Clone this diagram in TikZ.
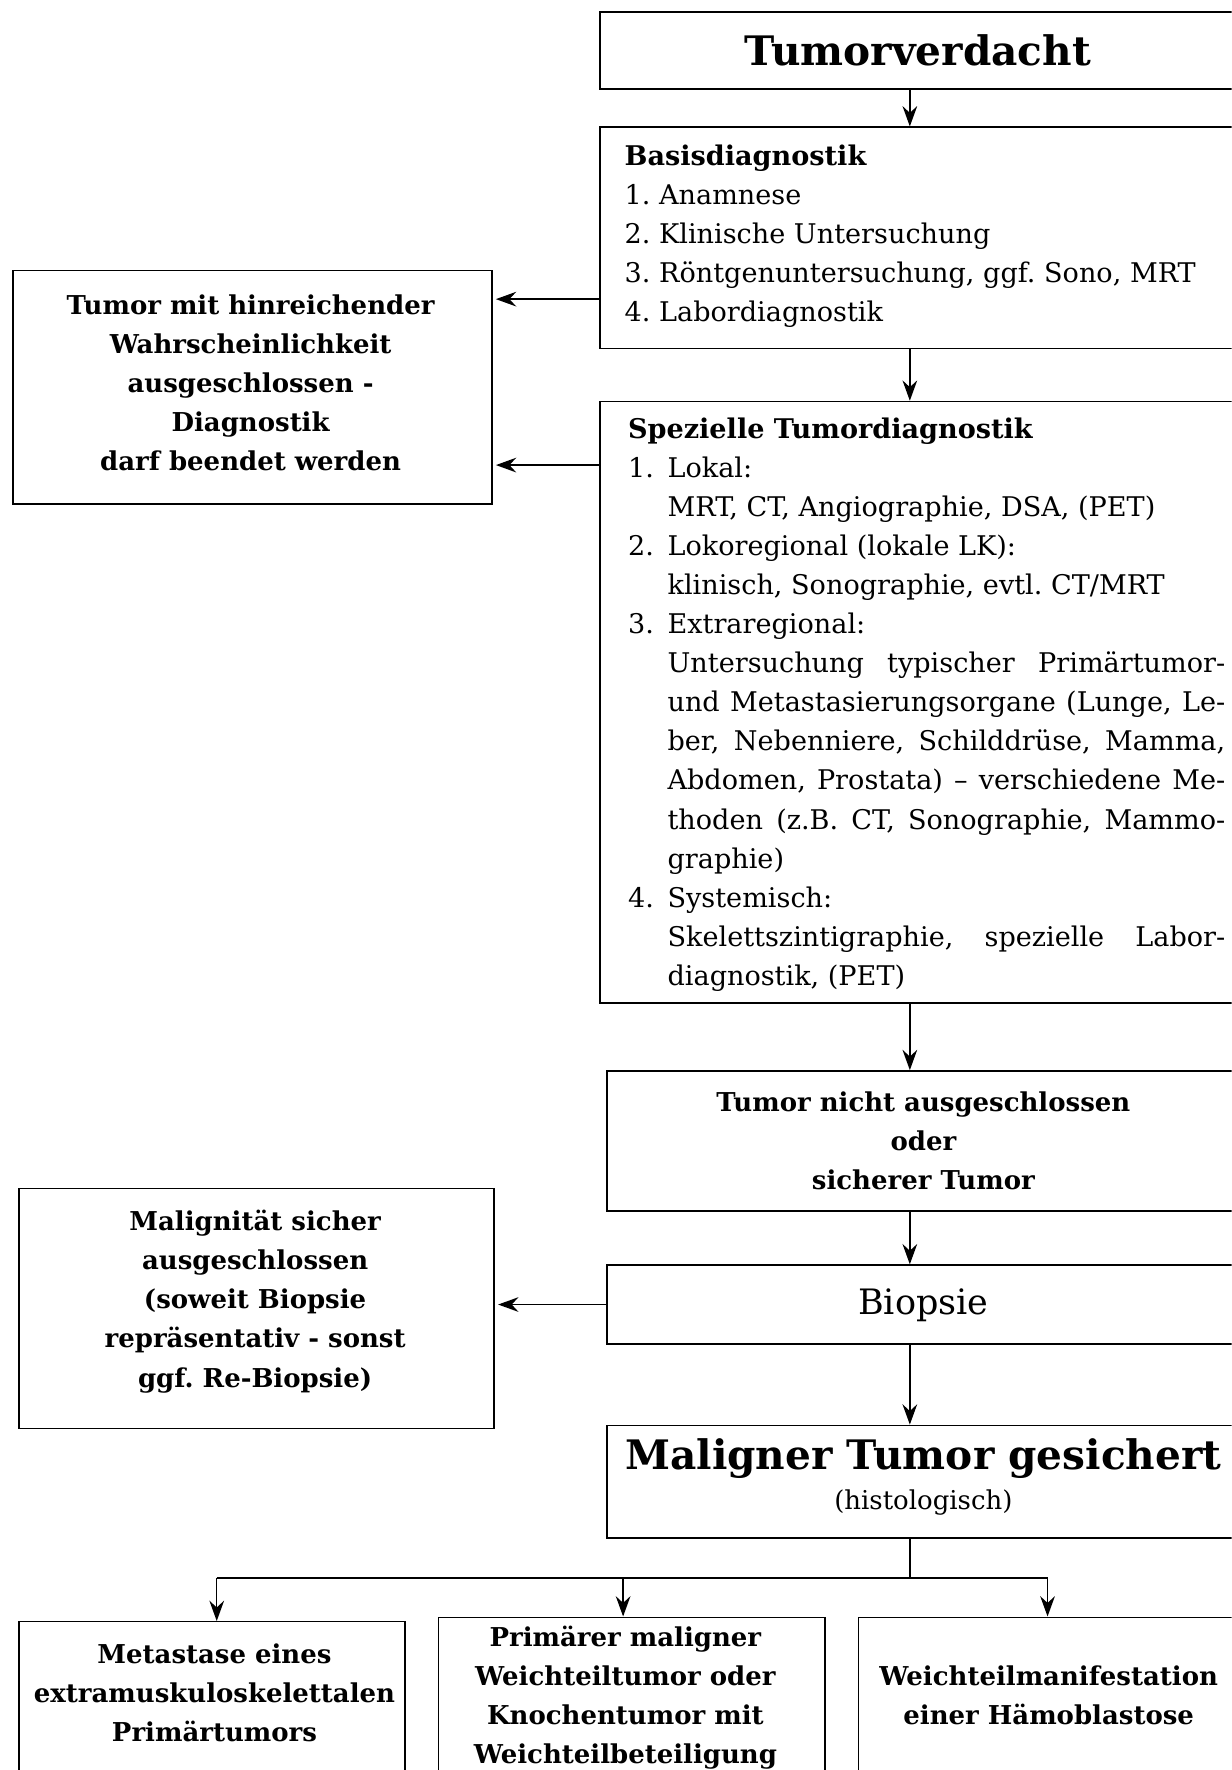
\documentclass[tikz,border=0pt]{standalone}
\usepackage{fontspec}
\setmainfont{DejaVu Serif}
\usetikzlibrary{arrows.meta,calc}
\newcommand\numbox[1]{\makebox[17.5pt][l]{#1}}
\newcommand\justline[1]{\makebox[247pt][s]{#1}}
\begin{document}
\frenchspacing
\begin{tikzpicture}[x=0.5pt,y=-0.5pt,
  box/.style={draw, line width=0.65pt, rectangle, inner sep=0pt, anchor=north west},
  arr/.style={-{Stealth[length=9pt,width=6.5pt,inset=3pt]}, line width=0.65pt},
  larr/.style={arr, shorten >=1.5pt},
  ln/.style={line width=0.65pt},
  ltxt/.style={inner sep=0pt, anchor=north west, align=left, font=\fontsize{12}{17.3}\selectfont},
  ctxt/.style={inner sep=0pt, align=center, font=\bfseries\fontsize{11.5}{17.3}\selectfont}
]
\useasboundingbox (0,0) rectangle (1091,1568);
\clip (0,0) rectangle (1091,1568);

% boxes
\node[box, minimum width=282pt,   minimum height=34pt]    (tv)    at (531,10) {};
\node[box, minimum width=283.5pt, minimum height=98pt]    (basis) at (531,112) {};
\node[box, minimum width=283.5pt, minimum height=266.5pt] (spez)  at (531,355) {};
\node[box, minimum width=212pt,   minimum height=103.5pt] (left1) at (11,239) {};
\node[box, minimum width=280.5pt, minimum height=62pt]    (tnot)  at (537,948) {};
\node[box, minimum width=280.5pt, minimum height=35pt]    (biop)  at (537,1120) {};
\node[box, minimum width=210.5pt, minimum height=106.5pt] (left2) at (16,1052) {};
\node[box, minimum width=280.5pt, minimum height=50pt]    (mal)   at (537,1262) {};
\node[box, minimum width=171pt,   minimum height=82pt]    (b1)    at (16,1436) {};
\node[box, minimum width=171pt,   minimum height=84pt]    (b2)    at (388,1432) {};
\node[box, minimum width=169pt,   minimum height=84pt]    (b3)    at (760,1432) {};

% texts
\node[inner sep=0pt, font=\bfseries\fontsize{18}{22}\selectfont] (tvt) at (813,45) {Tumorverdacht};
\node[ltxt] (basist) at (553,126) {\rule{0pt}{10pt}\textbf{Basisdiagnostik}\\
1. Anamnese\\
2. Klinische Untersuchung\\
3. Röntgenuntersuchung, ggf. Sono, MRT\\
4. Labordiagnostik};
\node[ltxt] (spezt) at (556,368) {\rule{0pt}{10pt}\textbf{Spezielle Tumordiagnostik}\\
\numbox{1.}Lokal:\\
\hspace*{17.5pt}MRT, CT, Angiographie, DSA, (PET)\\
\numbox{2.}Lokoregional (lokale LK):\\
\hspace*{17.5pt}klinisch, Sonographie, evtl. CT/MRT\\
\numbox{3.}Extraregional:\\
\hspace*{17.5pt}\justline{Untersuchung typischer Primärtumor-}\\
\hspace*{17.5pt}\justline{und Metastasierungsorgane (Lunge, Le-}\\
\hspace*{17.5pt}\justline{ber, Nebenniere, Schilddrüse, Mamma,}\\
\hspace*{17.5pt}\justline{Abdomen, Prostata) – verschiedene Me-}\\
\hspace*{17.5pt}\justline{thoden (z.B. CT, Sonographie, Mammo-}\\
\hspace*{17.5pt}graphie)\\
\numbox{4.}Systemisch:\\
\hspace*{17.5pt}\justline{Skelettszintigraphie, spezielle Labor-}\\
\hspace*{17.5pt}diagnostik, (PET)};
\node[ctxt] (left1t) at (222,339) {Tumor mit hinreichender\\Wahrscheinlichkeit\\ausgeschlossen -\\Diagnostik\\darf beendet werden};
\node[ctxt] (tnott) at (818,1011) {Tumor nicht ausgeschlossen\\oder\\sicherer Tumor};
\node[inner sep=0pt, font=\fontsize{15.5}{18}\selectfont] (biopt) at (818,1156) {Biopsie};
\node[ctxt] (left2t) at (226,1153) {Malignität sicher\\ausgeschlossen\\(soweit Biopsie\\repräsentativ - sonst\\ggf. Re-Biopsie)};
\node[inner sep=0pt, font=\bfseries\fontsize{18}{22}\selectfont] (malt) at (818,1292) {Maligner Tumor gesichert};
\node[inner sep=0pt, font=\fontsize{11.5}{14}\selectfont] (mals) at (818,1331) {(histologisch)};
\node[ctxt] (b1t) at (190,1500) {Metastase eines\\extramuskuloskelettalen\\Primärtumors};
\node[ctxt] (b2t) at (554,1504) {Primärer maligner\\Weichteiltumor oder\\Knochentumor mit\\Weichteilbeteiligung};
\node[ctxt] (b3t) at (929,1502) {Weichteilmanifestation\\einer Hämoblastose};

% connectors
\coordinate (ax) at (806,0);
\coordinate (ay1) at (0,265);
\coordinate (ay2) at (0,412);
\coordinate (br) at (806,1398);
\coordinate (k1) at (192,1398);
\coordinate (k2) at (552,1398);
\coordinate (k3) at (928,1398);

\draw[arr] (ax |- tv.south) -- (ax |- basis.north);
\draw[arr] (ax |- basis.south) -- (ax |- spez.north);
\draw[arr] (ax |- spez.south) -- (ax |- tnot.north);
\draw[arr] (ax |- tnot.south) -- (ax |- biop.north);
\draw[arr] (ax |- biop.south) -- (ax |- mal.north);
\draw[larr] (basis.west |- ay1) -- (left1.east |- ay1);
\draw[larr] (spez.west |- ay2) -- (left1.east |- ay2);
\draw[larr] (biop.west) -- (left2.east |- biop.west);
\draw[ln] (ax |- mal.south) -- (br);
\draw[ln] (k1) -- (k3);
\draw[arr] (k1) -- (k1 |- b1.north);
\draw[arr] (k2) -- (k2 |- b2.north);
\draw[arr] (k3) -- (k3 |- b3.north);
\end{tikzpicture}
\end{document}
